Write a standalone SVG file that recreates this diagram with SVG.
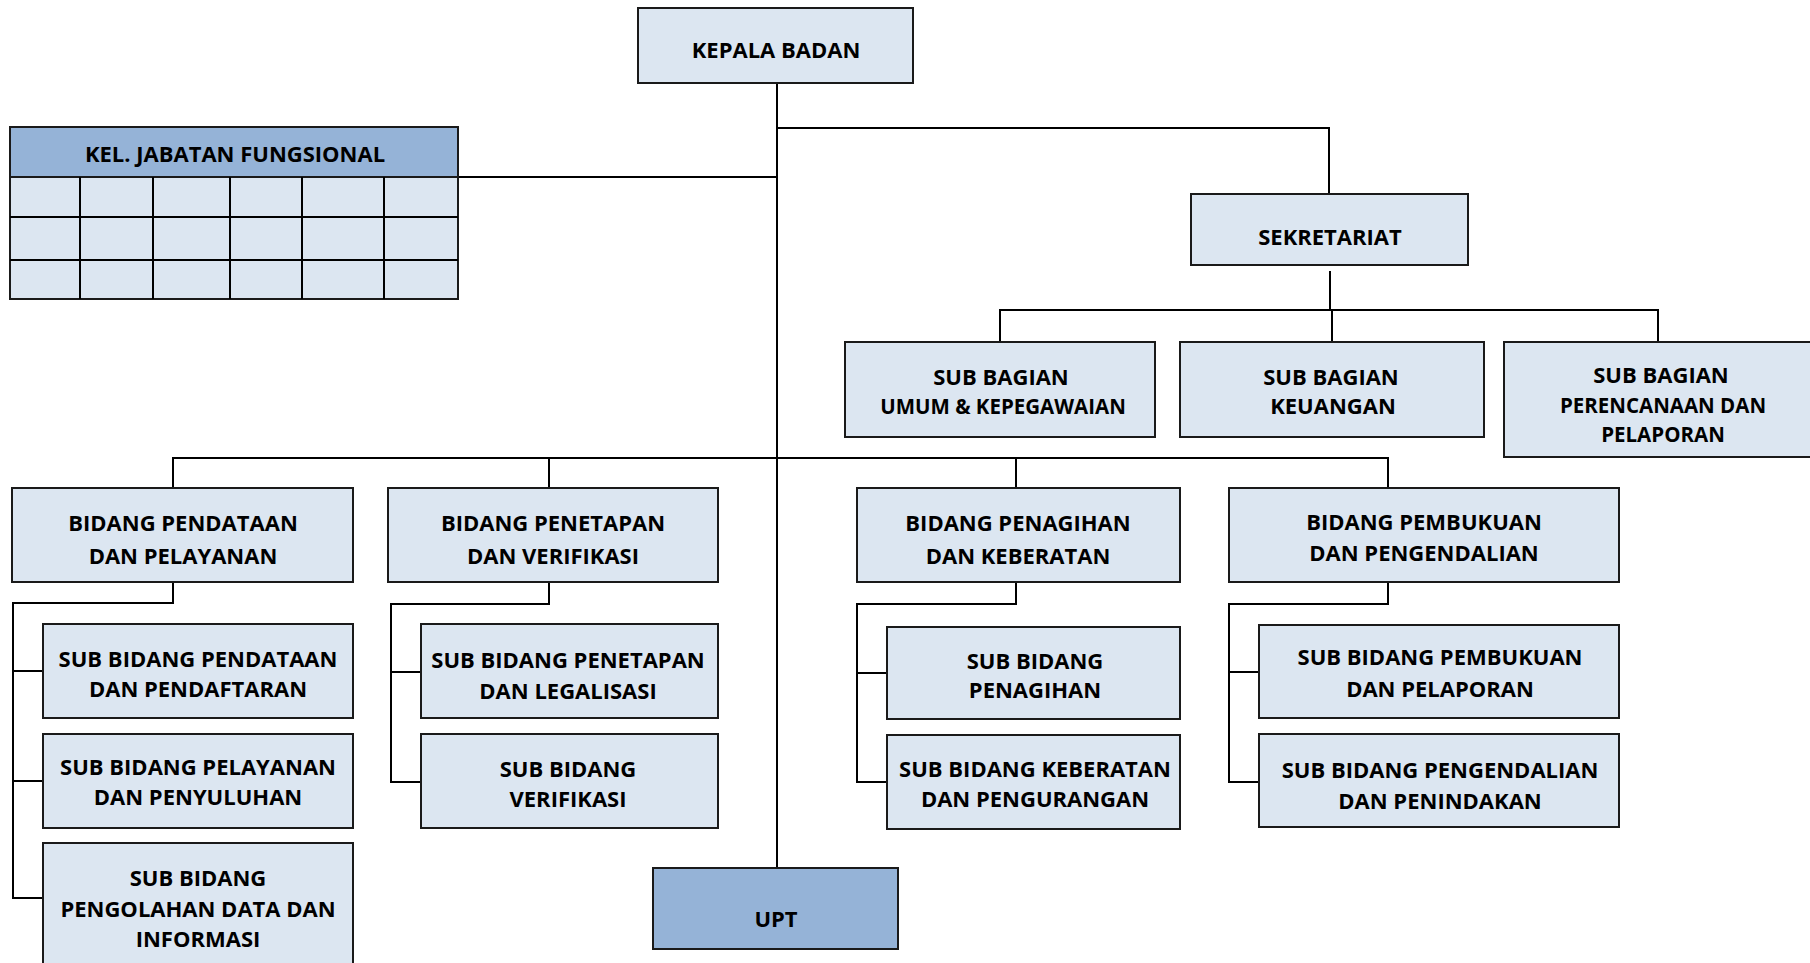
<svg xmlns="http://www.w3.org/2000/svg" width="1810" height="963" viewBox="0 0 1810 963">
<style>
.box{fill:#DCE6F1;stroke:#1a1a1a;stroke-width:2}
.hdr{fill:#95B3D7;stroke:#1a1a1a;stroke-width:2}
.t{font-family:"Open Sans","Liberation Sans",sans-serif;font-weight:700;font-size:22px;text-anchor:middle;fill:#000}
.s{font-size:20.5px}
.con{stroke:#000;stroke-width:2;fill:none}
</style>
<rect width="1810" height="963" fill="#fff"/>
<g id="connectors">
<path class="con" d="M777 84V868"/>
<path class="con" d="M777 128H1329V194"/>
<path class="con" d="M458 177H777"/>
<path class="con" d="M1330 271V310M1000 342V310H1658V342M1332 310V342"/>
<path class="con" d="M173 488V458H1388V488M549 458V488M1016 458V488"/>
<path class="con" d="M173 582V603H13V898H43M13 671H43M13 781H43"/>
<path class="con" d="M549 582V604H391V782H421M391 672H421"/>
<path class="con" d="M1016 582V604H857V782H887M857 673H887"/>
<path class="con" d="M1388 582V604H1229V782H1259M1229 672H1259"/>
</g>
<g id="kepala">
<rect class="box" x="638" y="8" width="275" height="75"/>
<text class="t" x="776" y="58">KEPALA BADAN</text>
</g>
<g id="jabatan">
<rect class="hdr" x="10" y="127" width="448" height="50"/>
<text class="t" x="235" y="162" font-size="18.5">KEL. JABATAN FUNGSIONAL</text>
<rect class="box" x="10" y="177" width="448" height="122"/>
<path class="con" d="M10 217H458M10 260H458M80 177V299M153 177V299M230 177V299M302 177V299M384 177V299"/>
</g>
<g id="sekretariat">
<rect class="box" x="1191" y="194" width="277" height="71"/>
<text class="t" x="1330" y="245">SEKRETARIAT</text>
</g>
<g id="sub-umum">
<rect class="box" x="845" y="342" width="310" height="95"/>
<text class="t" x="1001" y="385">SUB BAGIAN</text>
<text class="t s" x="1003" y="414">UMUM &amp; KEPEGAWAIAN</text>
</g>
<g id="sub-keuangan">
<rect class="box" x="1180" y="342" width="304" height="95"/>
<text class="t" x="1331" y="385">SUB BAGIAN</text>
<text class="t" x="1333" y="414">KEUANGAN</text>
</g>
<g id="sub-perencanaan">
<rect class="box" x="1504" y="342" width="310" height="115"/>
<text class="t" x="1661" y="383">SUB BAGIAN</text>
<text class="t s" x="1663" y="413">PERENCANAAN DAN</text>
<text class="t s" x="1663" y="442">PELAPORAN</text>
</g>
<g id="bidang-pendataan">
<rect class="box" x="12" y="488" width="341" height="94"/>
<text class="t" x="183" y="531">BIDANG PENDATAAN</text>
<text class="t" x="183" y="564">DAN PELAYANAN</text>
</g>
<g id="bidang-penetapan">
<rect class="box" x="388" y="488" width="330" height="94"/>
<text class="t" x="553" y="531">BIDANG PENETAPAN</text>
<text class="t" x="553" y="564">DAN VERIFIKASI</text>
</g>
<g id="bidang-penagihan">
<rect class="box" x="857" y="488" width="323" height="94"/>
<text class="t" x="1018" y="531">BIDANG PENAGIHAN</text>
<text class="t" x="1018" y="564">DAN KEBERATAN</text>
</g>
<g id="bidang-pembukuan">
<rect class="box" x="1229" y="488" width="390" height="94"/>
<text class="t" x="1424" y="530">BIDANG PEMBUKUAN</text>
<text class="t" x="1424" y="561">DAN PENGENDALIAN</text>
</g>
<g id="sb-pendataan">
<rect class="box" x="43" y="624" width="310" height="94"/>
<text class="t" x="198" y="667">SUB BIDANG PENDATAAN</text>
<text class="t" x="198" y="697">DAN PENDAFTARAN</text>
</g>
<g id="sb-pelayanan">
<rect class="box" x="43" y="734" width="310" height="94"/>
<text class="t" x="198" y="775">SUB BIDANG PELAYANAN</text>
<text class="t" x="198" y="805">DAN PENYULUHAN</text>
</g>
<g id="sb-pengolahan">
<rect class="box" x="43" y="843" width="310" height="130"/>
<text class="t" x="198" y="886">SUB BIDANG</text>
<text class="t" x="198" y="917">PENGOLAHAN DATA DAN</text>
<text class="t" x="198" y="947">INFORMASI</text>
</g>
<g id="sb-penetapan">
<rect class="box" x="421" y="624" width="297" height="94"/>
<text class="t" x="568" y="668">SUB BIDANG PENETAPAN</text>
<text class="t" x="568" y="699">DAN LEGALISASI</text>
</g>
<g id="sb-verifikasi">
<rect class="box" x="421" y="734" width="297" height="94"/>
<text class="t" x="568" y="777">SUB BIDANG</text>
<text class="t" x="568" y="807">VERIFIKASI</text>
</g>
<g id="sb-penagihan">
<rect class="box" x="887" y="627" width="293" height="92"/>
<text class="t" x="1035" y="669">SUB BIDANG</text>
<text class="t" x="1035" y="698">PENAGIHAN</text>
</g>
<g id="sb-keberatan">
<rect class="box" x="887" y="735" width="293" height="94"/>
<text class="t" x="1035" y="777">SUB BIDANG KEBERATAN</text>
<text class="t" x="1035" y="807">DAN PENGURANGAN</text>
</g>
<g id="sb-pembukuan">
<rect class="box" x="1259" y="625" width="360" height="93"/>
<text class="t" x="1440" y="665">SUB BIDANG PEMBUKUAN</text>
<text class="t" x="1440" y="697">DAN PELAPORAN</text>
</g>
<g id="sb-pengendalian">
<rect class="box" x="1259" y="734" width="360" height="93"/>
<text class="t" x="1440" y="778">SUB BIDANG PENGENDALIAN</text>
<text class="t" x="1440" y="809">DAN PENINDAKAN</text>
</g>
<g id="upt">
<rect class="hdr" x="653" y="868" width="245" height="81"/>
<text class="t" x="776" y="927">UPT</text>
</g>
</svg>
